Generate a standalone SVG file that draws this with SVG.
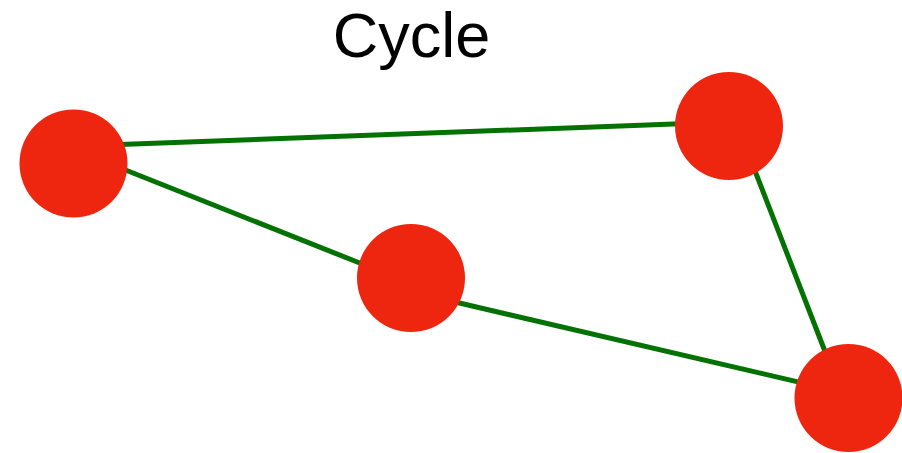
<svg xmlns="http://www.w3.org/2000/svg" width="902" height="453" viewBox="0 0 902 453">
<style>
.edge{stroke:#037203;stroke-width:5;fill:none}
.node{fill:#EE250F}
.title{font-family:"Liberation Sans",Arial,sans-serif;font-size:63px;fill:#000;text-anchor:middle}
</style>
<rect width="902" height="453" fill="#fff"/>
<text class="title" x="411.5" y="57">Cycle</text>
<g id="connectors">
<line class="edge" x1="120" y1="144.6" x2="680" y2="123.8"/>
<line class="edge" x1="123" y1="169" x2="366" y2="265.5"/>
<line class="edge" x1="452" y1="301.3" x2="801" y2="382.6"/>
<line class="edge" x1="753.5" y1="167" x2="826" y2="354"/>
</g>
<g id="node1"><circle class="node" cx="73.5" cy="163.5" r="54"/></g>
<g id="node2"><circle class="node" cx="411" cy="278" r="54"/></g>
<g id="node3"><circle class="node" cx="729" cy="126" r="54"/></g>
<g id="node4"><circle class="node" cx="848.5" cy="398" r="54"/></g>
</svg>
